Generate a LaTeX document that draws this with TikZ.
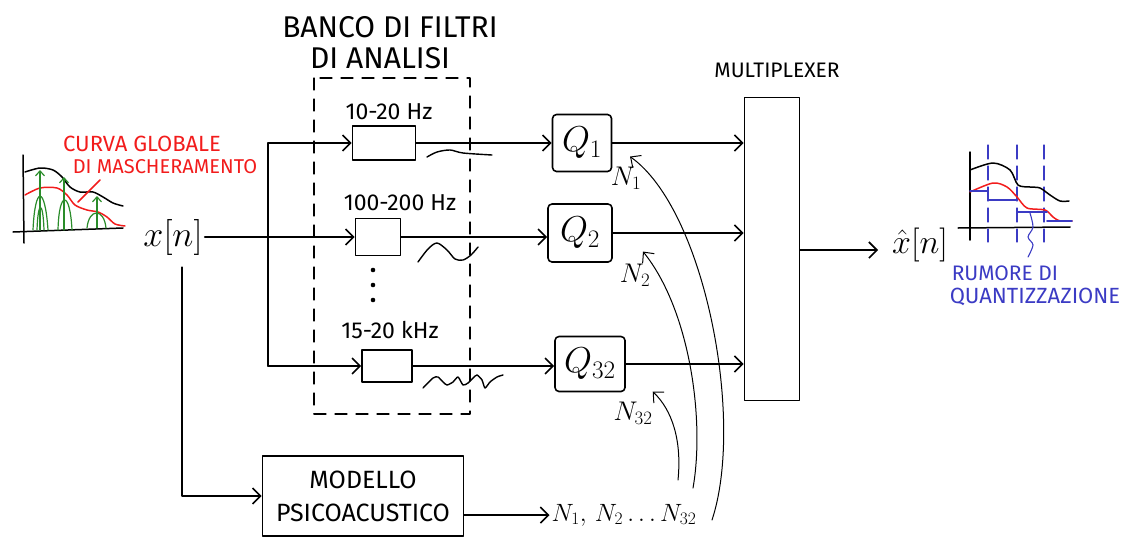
\RequirePackage{fix-cm}
\documentclass[tikz,border=0pt]{standalone}
\usepackage{fontspec}
\setmainfont{Fira Sans}
\usepackage{tikz}
\usetikzlibrary{arrows.meta,positioning}
\definecolor{hwred}{HTML}{F21C1C}
\definecolor{hwgreen}{HTML}{2A8C2A}
\definecolor{hwblue}{HTML}{3B3BC4}

\tikzset{
  wire/.style={line width=1.6pt, -{Straight Barb[length=8pt,width=16pt]}},
  feedback/.style={line width=1pt, -{Straight Barb[length=8pt,width=15pt]}},
  filterbox/.style={draw, line width=1.6pt, inner sep=0pt},
  qbox/.style={draw, line width=1.6pt, rounded corners=4pt, inner sep=0pt, font=\fontsize{36}{38}\selectfont},
  muxbox/.style={draw, line width=1.8pt, inner sep=0pt},
  modelbox/.style={draw, line width=1.6pt, minimum width=201pt, minimum height=80pt, align=center, font=\fontsize{25}{33}\selectfont},
  hwtext/.style={inner sep=1pt, font=\fontsize{30}{34}\selectfont},
  hwsmall/.style={inner sep=1pt, font=\fontsize{21}{24}\selectfont},
  band/.style={inner sep=1pt, font=\fontsize{23}{26}\selectfont},
  signal/.style={inner sep=2pt, font=\fontsize{36}{40}\selectfont},
  nlabel/.style={inner sep=2pt, font=\fontsize{27}{30}\selectfont},
  bankframe/.style={line width=1.2pt, dash pattern=on 12pt off 9pt},
  wave/.style={line width=1.4pt},
  spectrum/.style={line width=1.5pt},
}

\begin{document}
\begin{tikzpicture}[x=1pt, y=-1pt, line cap=round, line join=round]
  \useasboundingbox (0,0) rectangle (1126,538);

  % titles
  \node[hwtext] (banco) at (390,27) {BANCO DI FILTRI};
  \node[hwtext] (analisi) at (380,58) {DI ANALISI};
  \node[hwsmall] (muxtitle) at (777,70) {MULTIPLEXER};

  % analysis bank
  \draw[bankframe] (314,78) rectangle (470,414);
  \node[filterbox, minimum width=63pt, minimum height=34pt] (f1) at (384,143) {};
  \node[filterbox, minimum width=45pt, minimum height=37pt] (f2) at (378,237) {};
  \node[filterbox, minimum width=50pt, minimum height=32pt] (f3) at (387,366) {};
  \node[band] (b1) at (389,112) {10-20 Hz};
  \node[band] (b2) at (400,203) {100-200 Hz};
  \node[band] (b3) at (390,330) {15-20 kHz};
  \foreach \y in {270,285,300}
    \fill (373,\y) circle (2.3pt);

  % quantizers and multiplexer
  \node[qbox, minimum width=59pt, minimum height=57pt] (q1) at (582,143) {$Q_1$};
  \node[qbox, minimum width=64pt, minimum height=58pt] (q2) at (580,233) {$Q_2$};
  \node[qbox, minimum width=70pt, minimum height=55pt] (q3) at (590,364) {$Q_{32}$};
  \node[muxbox, minimum width=55pt, minimum height=303pt] (mux) at (772,249) {};

  % input and output
  \node[signal] (xn) at (173,237) {$x[n]$};
  \node[signal, font=\fontsize{34}{38}\selectfont] (xhat) at (920,245) {$\hat{x}[n]$};
  \coordinate (split) at (268,237);
  \draw[wire] (xn.east |- f2.west) -- (f2.west);
  \draw[line width=1.6pt] (split |- f1.west) -- (split |- f3.west);
  \draw[wire] (split |- f1.west) -- (f1.west);
  \draw[wire] (split |- f3.west) -- (f3.west);
  \foreach \i in {1,2,3}
    \draw[wire] (f\i.east) -- (q\i.west |- f\i.east);
  \foreach \i in {1,2,3}
    \draw[wire] (q\i.east) -- (mux.west |- q\i.east);
  \draw[wire] (mux.east |- 0,250) -- (878,250);

  % band signals
  \draw[wave] plot[smooth] coordinates {(427,157) (437,152) (450,150) (463,153) (492,155)};
  \draw[wave] plot[smooth] coordinates {(418,262) (428,249) (437,243) (447,250) (455,259) (463,260) (471,255) (478,247)};
  \draw[wave] plot[smooth, tension=0.4] coordinates {(423,388) (433,378) (438,377) (443,382) (447,385) (453,382) (458,377) (463,385) (468,383) (473,378) (477,375) (482,380) (485,388) (490,382) (497,377) (503,375)};

  % psychoacoustic model
  \node[modelbox] (model) at (363,496) {MODELLO\\PSICOACUSTICO};
  \draw[wire] ([xshift=9pt,yshift=-10pt]xn.south) |- (model.west);
  \node[nlabel, font=\fontsize{25}{28}\selectfont] (nall) at (624,515) {$N_1,\,N_2\ldots N_{32}$};
  \draw[wire] (model.east |- nall.west) -- (nall.west);

  % noise levels back to the quantizers
  \node[nlabel] (n1) at (626,178) {$N_1$};
  \node[nlabel] (n2) at (635,275) {$N_2$};
  \node[nlabel] (n32) at (633,413) {$N_{32}$};
  \coordinate (t1) at (712,520);
  \coordinate (t2) at (693,488);
  \coordinate (t3) at (678,480);
  \draw[feedback] (t1) .. controls (745,420) and (705,210) .. ([xshift=4pt,yshift=8pt]n1.north);
  \draw[feedback] (t2) .. controls (705,420) and (690,310) .. ([xshift=8pt,yshift=10pt]n2.north);
  \draw[feedback] (t3) .. controls (682,440) and (672,410) .. ([xshift=-2pt,yshift=8pt]n32.north east);

  % masking curve sketch
  \draw[spectrum] (23,155) -- (24,243);
  \draw[spectrum] (13,232) -- (123,228);
  \draw[spectrum] plot[smooth] coordinates {(25,172) (40,168) (53,170) (62,177) (70,187) (80,192) (93,192) (103,197) (113,203) (123,206)};
  \draw[spectrum, hwred] plot[smooth] coordinates {(25,195) (40,188) (57,188) (67,195) (75,205) (87,210) (98,212) (107,217) (115,224) (125,226)};
  \draw[spectrum, hwred] (78,202) -- (100,180);
  \begin{scope}[hwgreen, line width=1.2pt]
    \draw (33,230) .. controls (35,185) and (45,185) .. (48,230);
    \draw (37,230) .. controls (38,200) and (43,200) .. (44,230);
    \draw (58,230) .. controls (59,190) and (70,190) .. (72,230);
    \draw (87,228) .. controls (89,208) and (104,208) .. (106,228);
    \draw[-{Straight Barb[length=5pt,width=9pt]}] (40,230) -- (40,170);
    \draw[-{Straight Barb[length=5pt,width=9pt]}] (64,230) -- (64,177);
    \draw[-{Straight Barb[length=5pt,width=9pt]}] (97,228) -- (97,196);
  \end{scope}
  \node[hwsmall, text=hwred, font=\fontsize{22}{24}\selectfont] (curva) at (142,144) {CURVA GLOBALE};
  \node[hwsmall, text=hwred, font=\fontsize{20}{24}\selectfont] (masch) at (165,167) {DI MASCHERAMENTO};

  % quantization noise sketch
  \draw[spectrum] (970,152) -- (970,240);
  \draw[spectrum] (958,228) -- (1070,227);
  \foreach \x in {988,1017,1044}
    \draw[hwblue, line width=1.1pt, dash pattern=on 14pt off 7pt] (\x,145) -- (\x,242);
  \draw[spectrum] plot[smooth] coordinates {(970,170) (993,163) (1010,170) (1018,185) (1030,187) (1040,188) (1050,195) (1060,201) (1069,201)};
  \draw[spectrum, hwred] plot[smooth] coordinates {(970,192) (993,183) (1007,187) (1017,197) (1027,208) (1045,210) (1053,217) (1060,221) (1072,221)};
  \begin{scope}[hwblue, line width=1.8pt]
    \draw (970,191) -- (988,191);
    \draw (988,200) -- (1017,200);
    \draw (1017,212) -- (1047,212);
    \draw (1047,221) -- (1072,221);
  \end{scope}
  \draw[hwblue, line width=1.1pt] plot[smooth] coordinates {(1030,213) (1033,227) (1028,237) (1033,245) (1028,257)};
  \node[hwsmall, text=hwblue] (rumore) at (1005,273) {RUMORE DI};
  \node[hwsmall, text=hwblue, font=\fontsize{22}{24}\selectfont] (quant) at (1035,297) {QUANTIZZAZIONE};
\end{tikzpicture}
\end{document}
